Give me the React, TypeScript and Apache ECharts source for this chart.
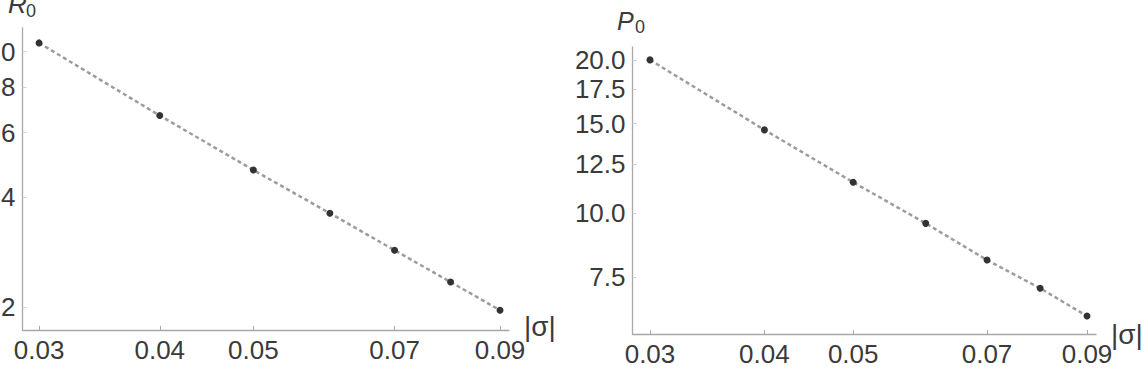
import React, { useEffect, useRef } from "react";
import * as echarts from "echarts";

// ---- data ----
const sigma = [0.03, 0.04, 0.05, 0.06, 0.07, 0.08, 0.09];
const R0 = [10.56, 6.68, 4.74, 3.61, 2.86, 2.34, 1.96];
const P0 = [20.0, 14.58, 11.51, 9.56, 8.1, 7.13, 6.29];
const xTicks = [0.03, 0.04, 0.05, 0.07, 0.09];
const rTicks = [2, 4, 6, 8, 10];
const pTicks = [7.5, 10, 12.5, 15, 17.5, 20];

const FONT = '"Liberation Sans", Arial, Helvetica, sans-serif';
const AXIS = "#a8a8a8";
const TEXT = "#3a3a3a";
const DOT = "#333333";
const DASH = "#9c9c9c";

function xAxisOpt(gridIndex: number, min: number, max: number) {
  return {
    type: "log",
    logBase: 10,
    gridIndex,
    min,
    max,
    axisLine: { show: true, onZero: false, lineStyle: { color: AXIS, width: 1.3 } },
    axisTick: {
      show: true,
      inside: true,
      length: 4,
      customValues: xTicks,
      lineStyle: { color: AXIS, width: 1 },
    },
    axisLabel: {
      customValues: xTicks,
      formatter: (v: number) => Number(v).toFixed(2),
      margin: 7,
      fontSize: 26,
      color: TEXT,
      fontFamily: FONT,
    },
    splitLine: { show: false },
    minorTick: { show: false },
    minorSplitLine: { show: false },
  };
}

function yAxisOpt(
  gridIndex: number,
  min: number,
  max: number,
  ticks: number[],
  fmt: (v: number) => string
) {
  return {
    type: "log",
    logBase: 10,
    gridIndex,
    min,
    max,
    axisLine: { show: true, onZero: false, lineStyle: { color: AXIS, width: 1.3 } },
    axisTick: {
      show: true,
      inside: true,
      length: 4,
      customValues: ticks,
      lineStyle: { color: "#d0d0d0", width: 1 },
    },
    axisLabel: {
      customValues: ticks,
      formatter: fmt,
      margin: 7,
      fontSize: 26,
      color: TEXT,
      fontFamily: FONT,
    },
    splitLine: { show: false },
    minorTick: { show: false },
    minorSplitLine: { show: false },
  };
}

function seriesOpt(idx: number, ys: number[]) {
  return {
    type: "line",
    xAxisIndex: idx,
    yAxisIndex: idx,
    data: sigma.map((s, i) => [s, ys[i]]),
    symbol: "circle",
    symbolSize: 7,
    itemStyle: { color: DOT },
    lineStyle: { color: DASH, width: 2.5, type: [4, 3] },
    silent: true,
  };
}

function textEl(x: number, y: number, text: string, size: number, italic: boolean) {
  return {
    type: "text",
    x,
    y,
    silent: true,
    style: {
      text,
      fontSize: size,
      fontFamily: FONT,
      fontStyle: italic ? "italic" : "normal",
      fill: TEXT,
      align: "left",
      textAlign: "left",
      verticalAlign: "middle",
      textVerticalAlign: "middle",
    },
  };
}

export default function App() {
  const ref = useRef<HTMLDivElement>(null);
  useEffect(() => {
    document.body.style.margin = "0";
    if (!ref.current) return;
    const chart = echarts.init(ref.current, undefined, { renderer: "svg" });
    chart.setOption({
      animation: false,
      backgroundColor: "#ffffff",
      grid: [
        { left: 22.5, top: 28, width: 486.5, height: 302, containLabel: false, outerBoundsMode: "none" },
        { left: 632.5, top: 47, width: 463.5, height: 287, containLabel: false, outerBoundsMode: "none" },
      ],
      xAxis: [xAxisOpt(0, 0.02884, 0.09195), xAxisOpt(1, 0.02871, 0.09206)],
      yAxis: [
        yAxisOpt(0, 1.73, 11.6, rTicks, (v: number) => String(Math.round(Number(v)))),
        yAxisOpt(1, 5.8, 21.2, pTicks, (v: number) => Number(v).toFixed(1)),
      ],
      series: [seriesOpt(0, R0), seriesOpt(1, P0)],
      graphic: [
        textEl(8, 3.5, "R", 26, true),
        textEl(26, 11, "0", 18, false),
        textEl(617, 21, "P", 25, true),
        textEl(635, 27, "0", 18, false),
        textEl(524, 326, "|σ|", 28, false),
        textEl(1111, 334, "|σ|", 28, false),
      ],
    });
    return () => chart.dispose();
  }, []);
  return <div ref={ref} style={{ width: 1148, height: 372 }} />;
}
